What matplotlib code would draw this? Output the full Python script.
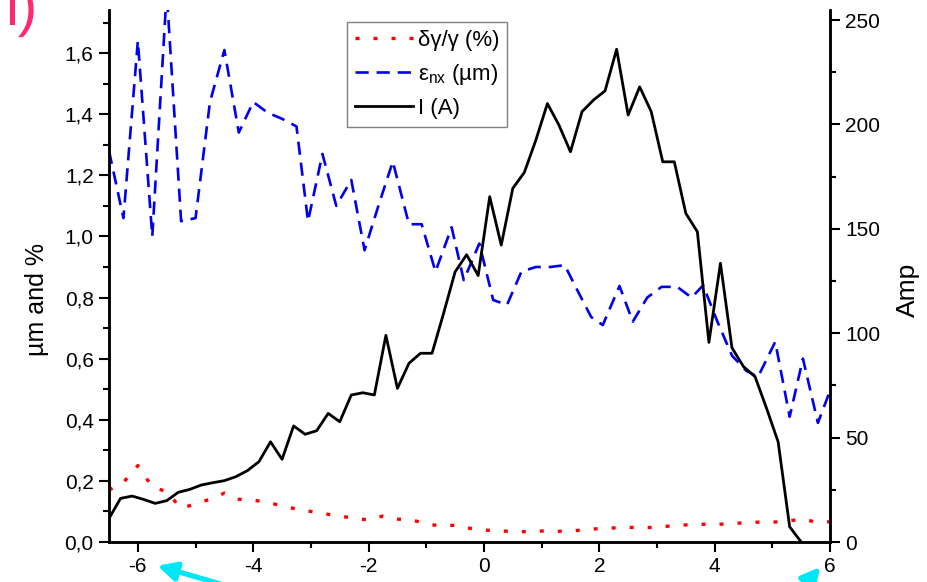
import numpy as np
import matplotlib
matplotlib.use('Agg')
import matplotlib.pyplot as plt
from matplotlib.ticker import MultipleLocator, FuncFormatter

plt.rcParams['font.family'] = ['Liberation Sans', 'DejaVu Sans']
plt.rcParams['mathtext.fontset'] = 'custom'
plt.rcParams['mathtext.rm'] = 'Liberation Sans'
plt.rcParams['mathtext.it'] = 'Liberation Sans:italic'
plt.rcParams['axes.unicode_minus'] = False

# current I (A), sampled every 0.2 from -6.5 to 5.5
x_cur = np.round(np.arange(-6.5, 5.51, 0.2), 2)
current = [11.3, 20.9, 22.0, 20.4, 18.5, 19.8, 23.8, 25.2, 27.3, 28.4,
           29.4, 31.3, 34.2, 38.5, 48.0, 39.6, 55.6, 51.6, 53.3, 61.6,
           57.6, 70.4, 71.5, 70.4, 99.0, 73.6, 85.6, 90.4, 90.4, 109.5,
           129.4, 137.6, 127.6, 165.4, 142.2, 169.4, 177.0, 192.5, 210.0, 199.7,
           186.9, 206.1, 211.7, 216.1, 236.0, 204.5, 218.0, 206.1, 182.1, 182.1,
           157.4, 148.6, 95.6, 133.5, 93.0, 84.0, 79.2, 64.0, 48.0, 7.3, 0.0]

# energy spread dgamma/gamma (%), every 0.25 from -6.5 to 6.0
x_spread = np.round(np.arange(-6.5, 6.01, 0.25), 2)
spread = [0.17, 0.195, 0.25, 0.18, 0.165, 0.11, 0.125, 0.14, 0.16, 0.14,
          0.137, 0.13, 0.118, 0.108, 0.10, 0.092, 0.085, 0.078, 0.072, 0.085,
          0.075, 0.072, 0.06, 0.052, 0.055, 0.045, 0.039, 0.037, 0.034, 0.034,
          0.036, 0.035, 0.036, 0.04, 0.044, 0.046, 0.048, 0.047, 0.048, 0.053,
          0.056, 0.058, 0.058, 0.059, 0.063, 0.065, 0.065, 0.068, 0.075, 0.066,
          0.066]

# normalized emittance (um)
x_emit = [-6.5, -6.25, -6.0, -5.75, -5.5, -5.25, -5.0, -4.75, -4.5, -4.25,
          -4.0, -3.75, -3.5, -3.25, -3.05, -2.8, -2.56, -2.3, -2.07, -1.83,
          -1.58, -1.3, -1.08, -0.84, -0.56, -0.35, -0.08, 0.16, 0.4, 0.65,
          0.9, 1.15, 1.4, 1.63, 1.86, 2.06, 2.35, 2.58, 2.83, 3.08,
          3.35, 3.6, 3.8, 4.05, 4.3, 4.55, 4.75, 5.05, 5.3, 5.53,
          5.79, 6.05]
emit = [1.28, 1.06, 1.64, 1.00, 1.80, 1.05, 1.06, 1.44, 1.61, 1.34,
        1.44, 1.405, 1.385, 1.36, 1.05, 1.27, 1.10, 1.185, 0.955, 1.10,
        1.245, 1.04, 1.04, 0.885, 1.03, 0.857, 0.977, 0.792, 0.776, 0.885,
        0.90, 0.90, 0.906, 0.82, 0.736, 0.71, 0.838, 0.721, 0.80, 0.835,
        0.835, 0.80, 0.84, 0.72, 0.61, 0.56, 0.54, 0.655, 0.41, 0.60,
        0.39, 0.52]

fig = plt.figure(figsize=(9.27, 5.82), dpi=100)
ax = fig.add_axes([0.1176, 0.0687, 0.7778, 0.9141])
ax2 = ax.twinx()

l1, = ax.plot(x_spread, spread, color='#ff0000', lw=2.4, linestyle=(0, (1.2, 4.2)))
l2, = ax.plot(x_emit, emit, color='#0000ee', lw=1.9, linestyle=(0, (5.0, 3.0)))
l3, = ax2.plot(x_cur, current, color='black', lw=2.0)

ax.set_xlim(-6.5, 6.0)
ax.set_ylim(0, 1.741)
ax2.set_ylim(0, 254.8)

ax.xaxis.set_major_locator(MultipleLocator(2))
ax.xaxis.set_minor_locator(MultipleLocator(1))
ax.yaxis.set_major_locator(MultipleLocator(0.2))
ax.yaxis.set_minor_locator(MultipleLocator(0.1))
ax.yaxis.set_major_formatter(FuncFormatter(lambda v, p: f"{v:.1f}".replace('.', ',')))
ax2.yaxis.set_major_locator(MultipleLocator(50))
ax2.yaxis.set_minor_locator(MultipleLocator(25))

for a in (ax, ax2):
    a.spines['top'].set_visible(False)
    for s in a.spines.values():
        s.set_linewidth(1.8)
    a.tick_params(which='major', direction='out', length=7, width=1.5, labelsize=15, pad=4)
    a.tick_params(which='minor', direction='out', length=4, width=1.5)

ax.set_ylabel('µm and %', fontsize=18)
ax.yaxis.set_label_coords(-0.083, 0.455)
ax2.set_ylabel('Amp', fontsize=19)
ax2.yaxis.set_label_coords(1.092, 0.474)

leg = ax2.legend([l1, l2, l3],
                 ['δγ/γ (%)', 'ε$_{\\mathrm{nx}}$ (µm)', 'I (A)'],
                 loc='upper left', bbox_to_anchor=(0.330, 0.977),
                 borderaxespad=0, borderpad=0.35, fontsize=16, handlelength=2.6,
                 handletextpad=0.25, labelspacing=0.5, fancybox=False,
                 framealpha=1, edgecolor='#808080')
leg.get_frame().set_linewidth(1.0)

# stray marks along the figure edge
fig.text(0.006, 1.03, 'l)', fontsize=42, color='#ff2a6e', va='top', ha='left')
fig.text(-0.012, 0.02, ':', fontsize=26, color='#ff2a6e', va='bottom', ha='left')

arrow = dict(arrowstyle='-|>', lw=3.5, color='#00e8f8', mutation_scale=28)
fig.add_artist(plt.annotate('', xy=(155, 17), xycoords='figure pixels',
                            xytext=(255, -12), textcoords='figure pixels',
                            arrowprops=arrow, annotation_clip=False))
fig.add_artist(plt.annotate('', xy=(822, 17), xycoords='figure pixels',
                            xytext=(795, -15), textcoords='figure pixels',
                            arrowprops=arrow, annotation_clip=False))

fig.savefig('out.png', dpi=100)
